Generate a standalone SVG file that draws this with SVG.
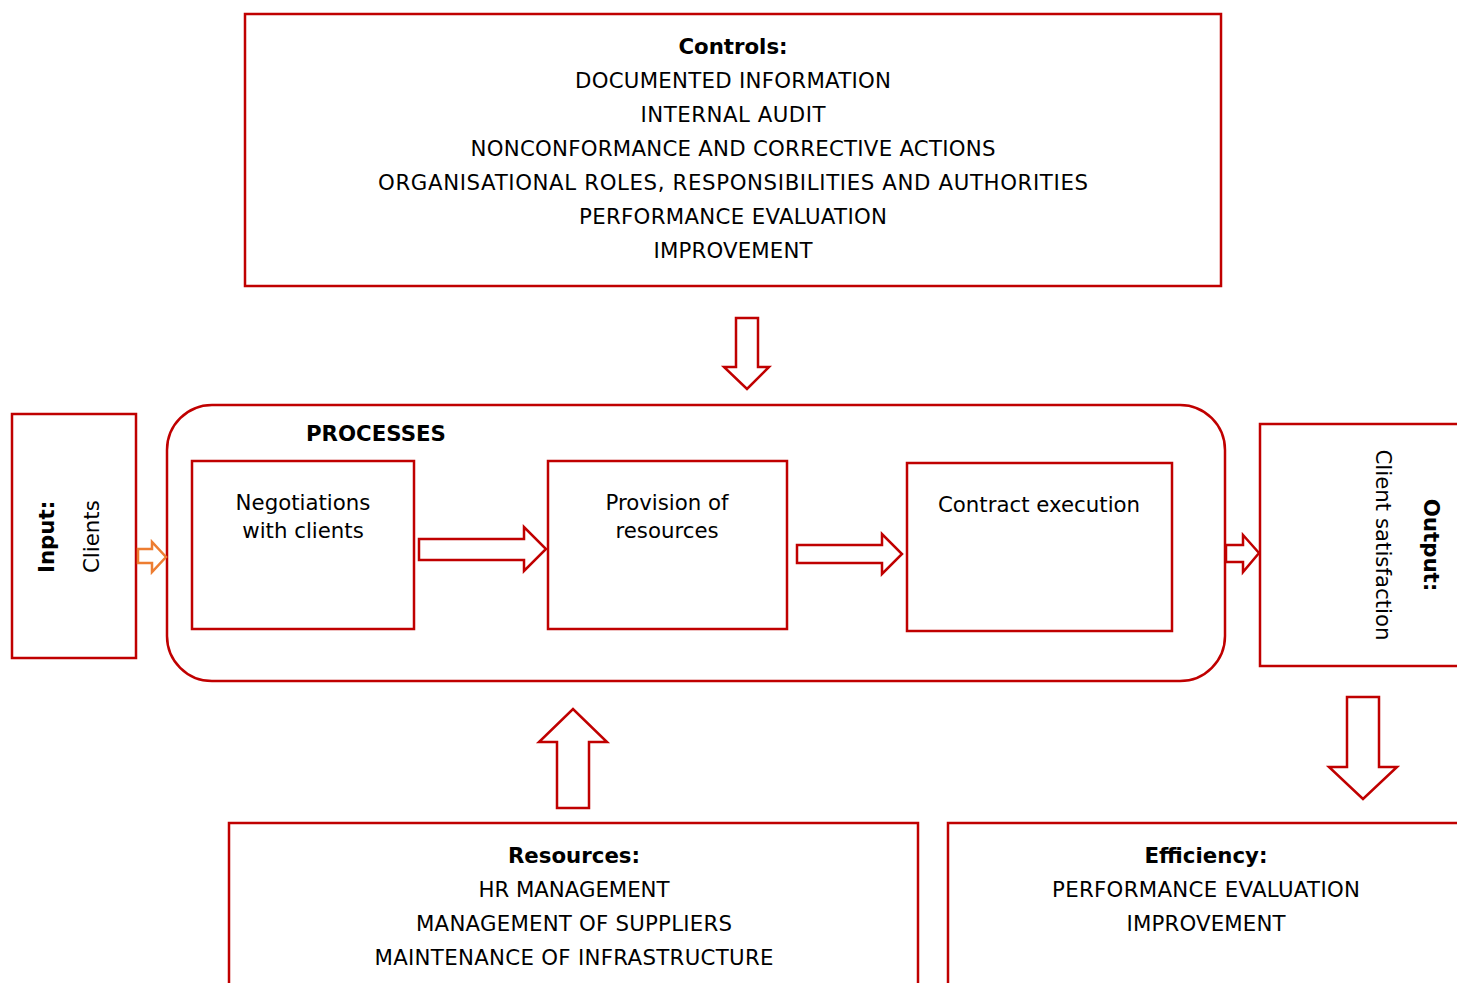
<svg xmlns="http://www.w3.org/2000/svg" width="1457" height="983" viewBox="0 0 1457 983">
<style>
.box{fill:#fff;stroke:#c00000;stroke-width:2.5}
.arr{fill:#fff;stroke:#c00000;stroke-width:2.5;stroke-linejoin:miter}
.arro{fill:#fff;stroke:#ed7d31;stroke-width:2.5}
text{font-family:"DejaVu Sans",Verdana,sans-serif;font-size:21.3px;fill:#000}
.c{text-anchor:middle}
.b{font-weight:bold}
</style>
<rect width="1457" height="983" fill="#fff"/>
<g id="controls">
<rect class="box" x="245" y="14" width="976" height="272"/>
<text class="c b" x="733" y="54">Controls:</text>
<text class="c" x="733" y="88" textLength="316" lengthAdjust="spacing">DOCUMENTED INFORMATION</text>
<text class="c" x="733" y="122" textLength="185" lengthAdjust="spacing">INTERNAL AUDIT</text>
<text class="c" x="733" y="156" textLength="525" lengthAdjust="spacing">NONCONFORMANCE AND CORRECTIVE ACTIONS</text>
<text class="c" x="733" y="190" textLength="710" lengthAdjust="spacing">ORGANISATIONAL ROLES, RESPONSIBILITIES AND AUTHORITIES</text>
<text class="c" x="733" y="224" textLength="308" lengthAdjust="spacing">PERFORMANCE EVALUATION</text>
<text class="c" x="733" y="258" textLength="159" lengthAdjust="spacing">IMPROVEMENT</text>
</g>
<g id="processes">
<rect class="box" x="167" y="405" width="1058" height="276" rx="45" ry="45"/>
<text class="b" x="306" y="441">PROCESSES</text>
</g>
<g id="negotiations">
<rect class="box" x="192" y="461" width="222" height="168"/>
<text class="c" x="303" y="510">Negotiations</text>
<text class="c" x="303" y="538">with clients</text>
</g>
<g id="provision">
<rect class="box" x="548" y="461" width="239" height="168"/>
<text class="c" x="667" y="510">Provision of</text>
<text class="c" x="667" y="538">resources</text>
</g>
<g id="contract">
<rect class="box" x="907" y="463" width="265" height="168"/>
<text class="c" x="1039" y="512">Contract execution</text>
</g>
<g id="input">
<rect class="box" x="12" y="414" width="124" height="244"/>
<text class="b" transform="translate(54 573) rotate(-90)">Input:</text>
<text transform="translate(99 573) rotate(-90)">Clients</text>
</g>
<g id="output">
<rect class="box" x="1260" y="424" width="210" height="242"/>
<text class="c" transform="translate(1376 545) rotate(90)">Client satisfaction</text>
<text class="c b" transform="translate(1424 545) rotate(90)">Output:</text>
</g>
<g id="resources">
<rect class="box" x="229" y="823" width="689" height="200"/>
<text class="c b" x="574" y="863">Resources:</text>
<text class="c" x="574" y="897" textLength="191" lengthAdjust="spacing">HR MANAGEMENT</text>
<text class="c" x="574" y="931" textLength="316" lengthAdjust="spacing">MANAGEMENT OF SUPPLIERS</text>
<text class="c" x="574" y="965" textLength="399" lengthAdjust="spacing">MAINTENANCE OF INFRASTRUCTURE</text>
</g>
<g id="efficiency">
<rect class="box" x="948" y="823" width="540" height="200"/>
<text class="c b" x="1206" y="863">Efficiency:</text>
<text class="c" x="1206" y="897" textLength="308" lengthAdjust="spacing">PERFORMANCE EVALUATION</text>
<text class="c" x="1206" y="931" textLength="159" lengthAdjust="spacing">IMPROVEMENT</text>
</g>
<g id="connectors">
<polygon class="arro" points="138,549 152,549 152,542 166,557 152,572 152,563 138,563"/>
<polygon class="arr" points="419,539 524,539 524,527 546,549 524,571 524,560 419,560"/>
<polygon class="arr" points="797,545 882,545 882,534 902,554 882,574 882,563 797,563"/>
<polygon class="arr" points="1226,545 1243,545 1243,535 1259,553 1243,572 1243,562 1226,562"/>
<polygon class="arr" points="736,318 758,318 758,367 769,367 747,389 724,367 736,367"/>
<polygon class="arr" points="557,808 589,808 589,742 607,742 573,709 539,742 557,742"/>
<polygon class="arr" points="1347,697 1379,697 1379,767 1397,767 1363,799 1329,767 1347,767"/>
</g>
</svg>
